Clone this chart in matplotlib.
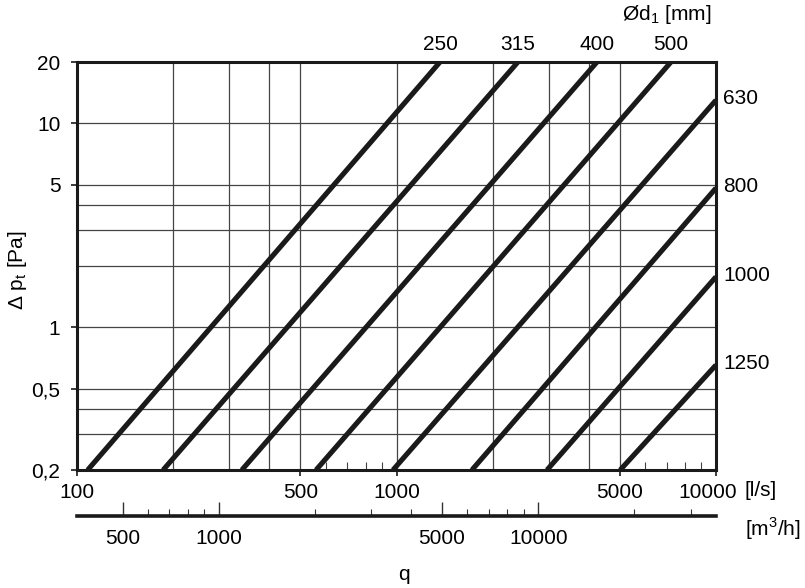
import matplotlib
matplotlib.use('Agg')
from matplotlib import pyplot as plt
from matplotlib.transforms import ScaledTranslation

# fonts
plt.rcParams['font.family'] = ['Liberation Sans', 'DejaVu Sans']
plt.rcParams['mathtext.fontset'] = 'custom'
plt.rcParams['mathtext.rm'] = 'Liberation Sans'

# data: (q [l/s], dp [Pa]) end points of each duct line
diameters = ['250', '315', '400', '500', '630', '800', '1000', '1250']
q_start = [108, 186, 328, 560, 975, 1722, 2958, 5012]          # at dp = 0.2
q_end = [1368, 2399, 4241, 7229, 10000, 10000, 10000, 10000]
dp_start = [0.2] * 8
dp_end = [20, 20, 20, 20, 13.0, 4.82, 1.77, 0.654]

x_major = [100, 500, 1000, 5000, 10000]
x_major_labels = ['100', '500', '1000', '5000', '10000']
x_minor = [600, 700, 800, 900, 6000, 7000, 8000, 9000]
x_grid = [200, 300, 400, 500, 1000, 2000, 3000, 4000, 5000]

y_major = [0.2, 0.5, 1, 5, 10, 20]
y_major_labels = ['0,2', '0,5', '1', '5', '10', '20']
y_grid = [0.3, 0.4, 0.5, 1, 2, 3, 4, 5, 10]

m3h_major = [500, 1000, 5000, 10000]
m3h_minor = [600, 700, 800, 900, 2000, 3000, 4000, 6000, 7000, 8000,
             9000, 20000, 30000]

dark = '#1a1a1a'
fs = 15

# create figure
fig = plt.figure(figsize=(8.05, 5.88), dpi=100)
ax = fig.add_axes([77/805, 1 - 470/588, (716 - 77)/805, (470 - 62)/588])
ax.set_xscale('log')
ax.set_yscale('log')
ax.set_xlim(100, 10000)
ax.set_ylim(0.2, 20)

# grid
for gx in x_grid:
    ax.axvline(gx, color='#444444', lw=0.9, zorder=1)
for gy in y_grid:
    ax.axhline(gy, color='#444444', lw=0.9, zorder=1)

# duct lines
for i, d in enumerate(diameters):
    ax.plot([q_start[i], q_end[i]], [dp_start[i], dp_end[i]],
            color=dark, lw=3.7, solid_capstyle='butt', zorder=3)
    if dp_end[i] >= 20:
        ax.annotate(d, (q_end[i], dp_end[i]), xytext=(0, 6),
                    textcoords='offset points', ha='center', va='bottom',
                    fontsize=fs, annotation_clip=False)
    else:
        ax.annotate(d, (q_end[i], dp_end[i]), xytext=(5, 1),
                    textcoords='offset points', ha='left', va='center',
                    fontsize=fs, annotation_clip=False)

# ticks
ax.set_xticks(x_major, x_major_labels)
ax.set_xticks(x_minor, minor=True)
ax.set_yticks(y_major, y_major_labels)
ax.set_yticks([], minor=True)
ax.tick_params(axis='x', which='major', direction='out', length=4,
               width=1.2, pad=5, labelsize=fs, color=dark)
ax.tick_params(axis='x', which='minor', direction='in', length=6,
               width=0.8, color='#444444')
ax.tick_params(axis='y', which='major', direction='out', length=4,
               width=1.2, pad=8, labelsize=fs, color=dark)

# nudge the last flow label left so "[l/s]" fits beside it
lab = ax.get_xticklabels()[-1]
lab.set_transform(lab.get_transform() +
                  ScaledTranslation(-0.08, 0, fig.dpi_scale_trans))

for s in ax.spines.values():
    s.set_linewidth(2.2)
    s.set_color(dark)

# labels
ax.set_ylabel(r'$\Delta$ p$_\mathregular{t}$ [Pa]', fontsize=fs)
ax.yaxis.set_label_coords(-0.075, 0.49)
fig.text(711/805, 1 - 14/588, r'Ød$_\mathregular{1}$ [mm]', fontsize=fs,
         ha='right', va='center')
fig.text(744/805, 1 - 491/588, '[l/s]', fontsize=fs, ha='left', va='center')
fig.text(745/805, 1 - 529/588, r'[m$^\mathregular{3}$/h]', fontsize=fs,
         ha='left', va='center')
fig.text(404/805, 1 - 574/588, 'q', fontsize=fs, ha='center', va='center')

# second flow axis in m3/h
sec = ax.secondary_xaxis(-46/408, functions=(lambda q: q * 3.6,
                                             lambda q: q / 3.6))
sec.set_xticks(m3h_major, [str(v) for v in m3h_major])
sec.set_xticks(m3h_minor, minor=True)
sec.tick_params(which='major', direction='in', length=10, width=1.0,
                pad=9, labelsize=fs, color='#333333')
sec.tick_params(which='minor', direction='in', length=5, width=0.8,
                color='#333333')
sec.spines['bottom'].set_linewidth(2.6)
sec.spines['bottom'].set_color(dark)

fig.savefig('out.png', dpi=100)
